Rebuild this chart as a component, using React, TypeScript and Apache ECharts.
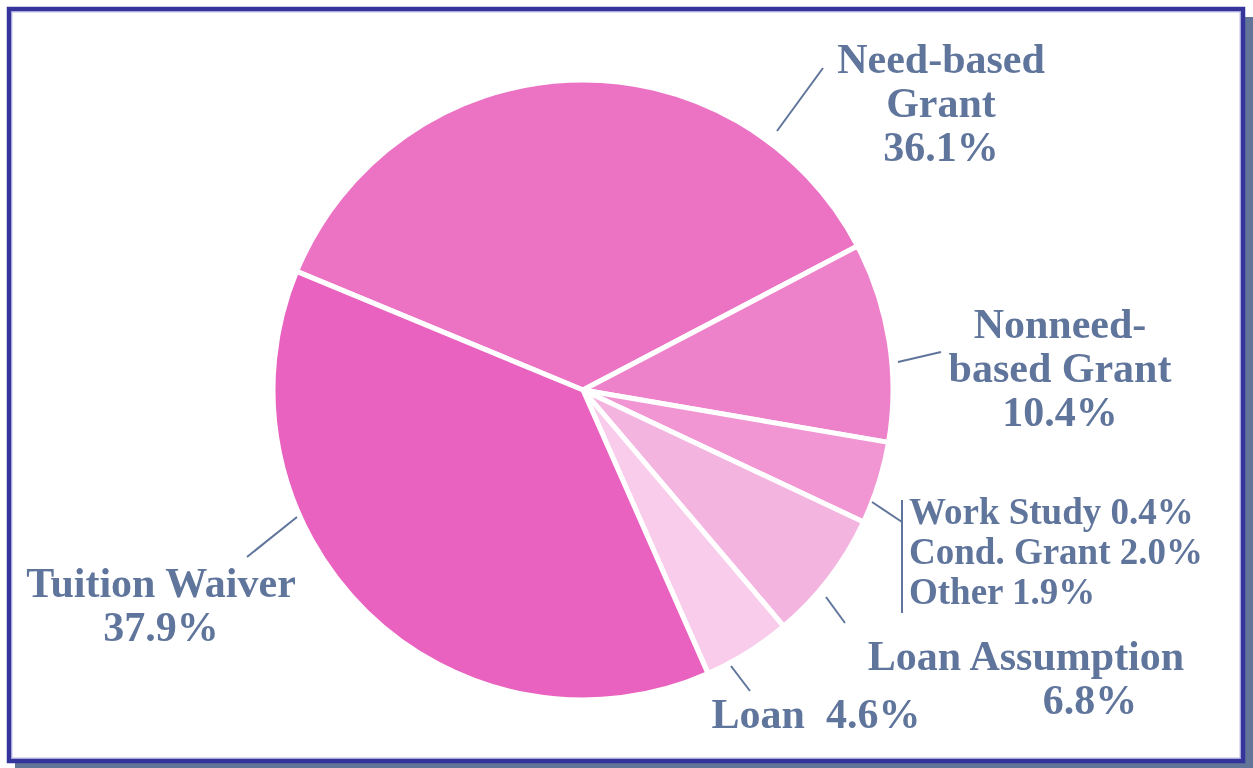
import React, { useEffect, useRef } from "react";
import * as echarts from "echarts";

const categories = ["Need-based Grant", "Nonneed-based Grant", "Work Study / Cond. Grant / Other", "Loan Assumption", "Loan", "Tuition Waiver"];
const values = [36.1, 10.4, 4.3, 6.8, 4.6, 37.9];
const smallNames = ["Work Study", "Cond. Grant", "Other"];
const smallValues = [0.4, 2.0, 1.9];
const sliceColors = ["#EC72C4", "#EE82CA", "#F196D2", "#F4B4E0", "#F8CCEA", "#E962BF"];

const TEXT = "#60759B";
const FONT = "'Liberation Serif', 'Times New Roman', serif";

// label anchor positions (x, y center, align)
const labelPos: [number, number, string][] = [
  [941, 103, "center"],
  [1060, 368, "center"],
  [909, 551, "left"],
  [1026, 678, "center"],
  [816, 714, "center"],
  [161, 605, "center"],
];

const leaderLines: [number, number, number, number][] = [
  [777, 131, 823, 68],
  [898, 362, 941, 352],
  [872, 502, 902, 522],
  [826, 597, 845, 623],
  [731, 666, 750, 691],
  [297, 517, 247, 557],
];

function labelText(i: number): string {
  const v = values[i].toFixed(1) + "%";
  switch (i) {
    case 0:
      return "Need-based\nGrant\n" + v;
    case 1:
      return "Nonneed-\nbased Grant\n" + v;
    case 2:
      return smallNames.map((n, k) => `{s|${n} ${smallValues[k].toFixed(1)}%}`).join("\n");
    case 3:
      return "Loan Assumption\n{p|" + v + "}";
    case 4:
      return "Loan  " + v;
    default:
      return "Tuition Waiver\n" + v;
  }
}

export default function App() {
  const ref = useRef<HTMLDivElement>(null);
  useEffect(() => {
    if (!ref.current) return;
    const chart = echarts.init(ref.current, null, { renderer: "svg" });
    const graphics: any[] = [
      { type: "rect", shape: { x: 15, y: 17, width: 1238, height: 751 }, style: { fill: "#627599" }, z: 0 },
      { type: "rect", shape: { x: 9, y: 9, width: 1234, height: 752 }, style: { fill: "#ffffff", stroke: "#34349A", lineWidth: 4.5 }, z: 1 },
      { type: "rect", shape: { x: 11.8, y: 11.8, width: 1228.4, height: 746.4 }, style: { fill: "none", stroke: "#9A9AD6", lineWidth: 1 }, z: 1 },
      ...leaderLines.map((l) => ({
        type: "line",
        shape: { x1: l[0], y1: l[1], x2: l[2], y2: l[3] },
        style: { stroke: TEXT, lineWidth: 2 },
        z: 10,
      })),
      { type: "line", shape: { x1: 902, y1: 500, x2: 902, y2: 613 }, style: { stroke: TEXT, lineWidth: 2 }, z: 10 },
    ];
    chart.setOption({
      animation: false,
      backgroundColor: "transparent",
      graphic: { elements: graphics },
      series: [
        {
          type: "pie",
          center: [583, 390],
          radius: [0, 310],
          startAngle: 157.5,
          clockwise: true,
          avoidLabelOverlap: false,
          z: 5,
          itemStyle: { borderColor: "#ffffff", borderWidth: 5 },
          emphasis: { disabled: true },
          labelLine: { show: false },
          label: {
            show: true,
            position: "outside",
            color: TEXT,
            fontFamily: FONT,
            fontWeight: "bold",
            fontSize: 42,
            lineHeight: 44,
            formatter: (p: any) => labelText(p.dataIndex),
            rich: {
              s: { fontFamily: FONT, fontWeight: "bold", fontSize: 37, lineHeight: 40, color: TEXT },
              p: { fontFamily: FONT, fontWeight: "bold", fontSize: 42, lineHeight: 44, color: TEXT, padding: [0, 0, 0, 128] },
            },
          },
          labelLayout: (params: any) => {
            const pos = labelPos[params.dataIndex];
            return { x: pos[0], y: pos[1], align: pos[2], verticalAlign: "middle", hideOverlap: false };
          },
          data: categories.map((name, i) => ({
            name,
            value: values[i],
            itemStyle: { color: sliceColors[i] },
          })),
        },
      ],
    });
    return () => chart.dispose();
  }, []);
  return <div ref={ref} style={{ position: "fixed", left: 0, top: 0, width: 1253, height: 768 }} />;
}
